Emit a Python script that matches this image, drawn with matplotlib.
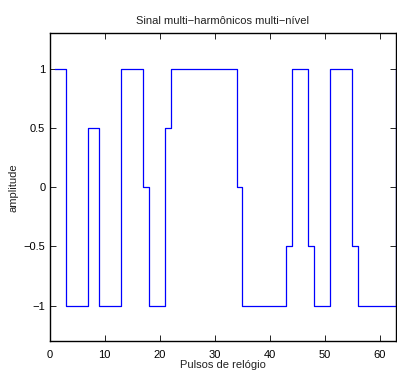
import numpy as np
import matplotlib
matplotlib.use("Agg")
import matplotlib.pyplot as plt

plt.rcParams['font.family'] = ['Liberation Sans', 'DejaVu Sans']

# clock pulses and signal level held from each pulse
pulses = np.arange(1, 64)
levels = [1, 1, -1, -1, -1, -1, 0.5, 0.5, -1, -1, -1, -1, 1, 1, 1, 1, 0, -1, -1, -1,
          0.5, 1, 1, 1, 1, 1, 1, 1, 1, 1, 1, 1, 1, 0, -1, -1, -1, -1, -1, -1, -1, -1,
          -0.5, 1, 1, 1, -0.5, -1, -1, -1, 1, 1, 1, 1, -0.5, -1, -1, -1, -1, -1, -1, -1, 1]

xticks = [0, 10, 20, 30, 40, 50, 60]
yticks = [-1, -0.5, 0, 0.5, 1]
yticklabels = ['\u22121', '\u22120.5', '0', '0.5', '1']

fig = plt.figure(figsize=(3.97, 3.72), dpi=100)
ax = fig.add_axes([0.1247, 0.0833, 0.873, 0.827])

ax.step(pulses, levels, where='post', color='#0000ff', linewidth=0.9)

ax.set_xlim(0, 63)
ax.set_ylim(-1.3, 1.3)
ax.set_xticks(xticks)
ax.set_yticks(yticks)
ax.set_yticklabels(yticklabels)
ax.tick_params(direction='in', length=4, width=0.6, labelsize=8, top=True, right=True)
ax.tick_params(axis='x', pad=6.5)
ax.tick_params(axis='y', pad=3)
for s in ax.spines.values():
    s.set_linewidth(1.0)

ax.set_title('Sinal multi\u2212harmônicos multi\u2212nível', fontsize=8, pad=6.5, color='#222222')
ax.set_xlabel('Pulsos de relógio', fontsize=8, labelpad=0, color='#222222')
ax.set_ylabel('amplitude', fontsize=8, labelpad=4, color='#222222')

fig.savefig('out.png', dpi=100)
